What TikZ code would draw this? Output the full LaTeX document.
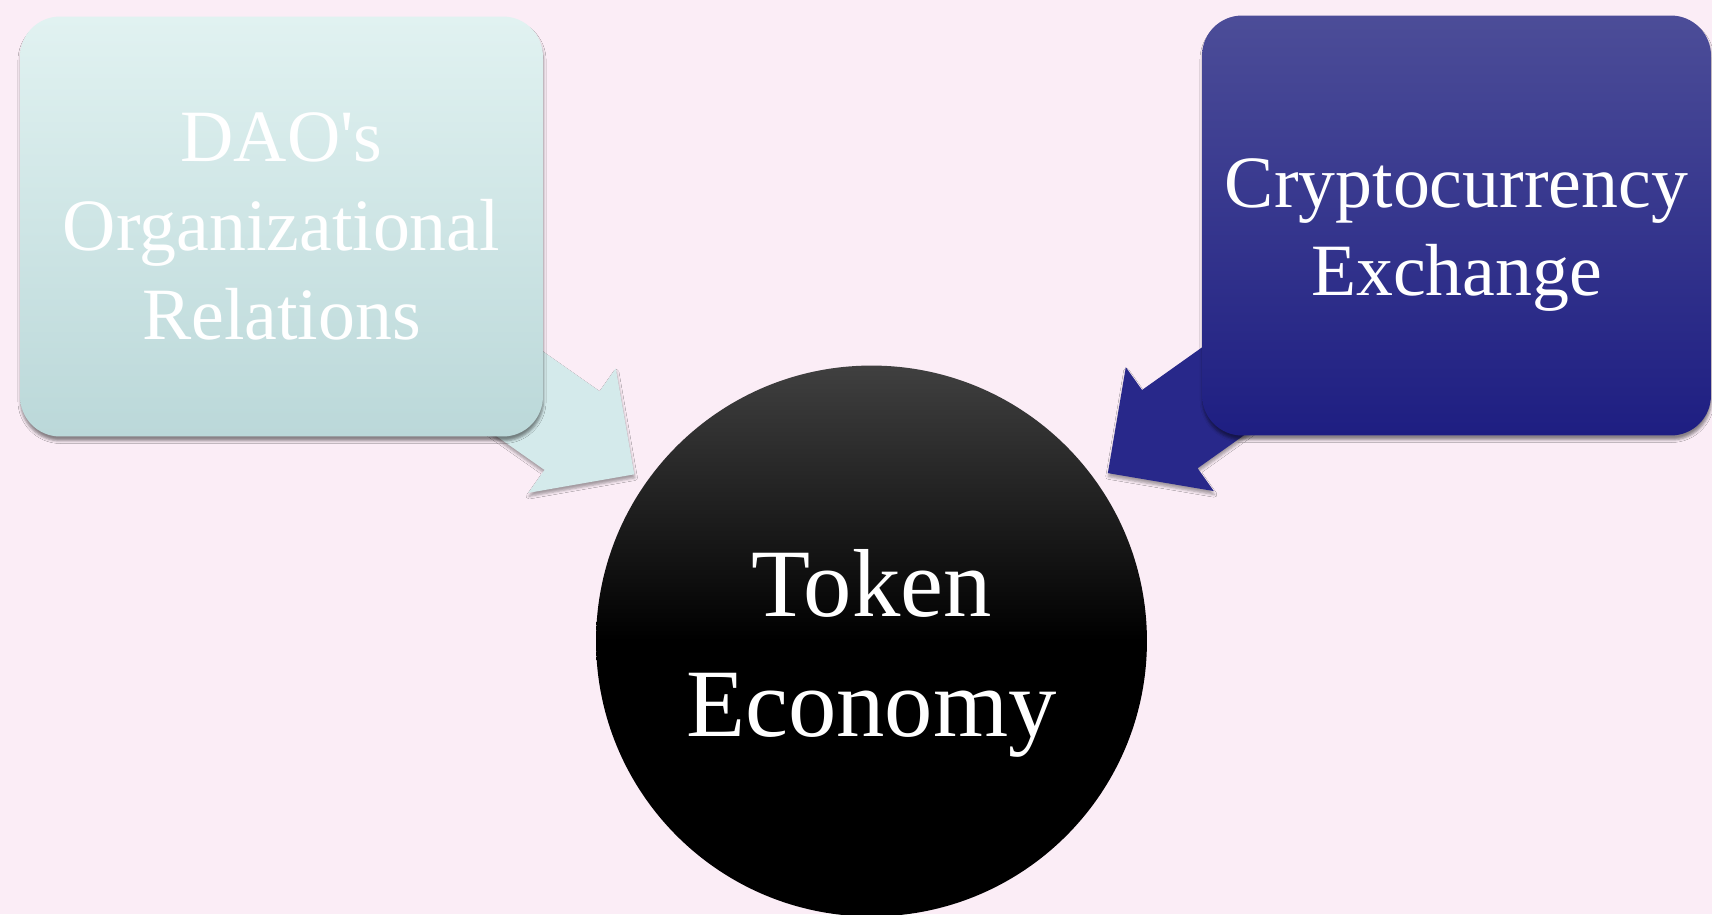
\documentclass[tikz,border=0pt]{standalone}
\usepackage{fontspec}
\setmainfont{Liberation Serif}
\usetikzlibrary{calc,shapes,positioning,shadows.blur}
\definecolor{bgpink}{RGB}{251,237,246}
\definecolor{daoTop}{RGB}{225,242,241}
\definecolor{daoBottom}{RGB}{187,216,217}
\definecolor{daoArrow}{RGB}{212,234,235}
\definecolor{exTop}{RGB}{76,77,152}
\definecolor{exBottom}{RGB}{30,30,130}
\definecolor{exArrow}{RGB}{40,40,138}
\pgfdeclarelayer{background}
\pgfsetlayers{background,main}
\tikzset{%
    topic/.style={%
        rectangle, rounded corners=0.8cm, align=center, text=white, inner sep=2pt,
        minimum height=8.4cm, font=\fontsize{42}{50.5}\selectfont,
        blur shadow={shadow xshift=0.3pt, shadow yshift=-2.5pt, shadow blur radius=1.5pt, shadow opacity=45}
    },
    dao_box/.style={%
        top color=daoTop, bottom color=daoBottom, minimum width=10.46cm
    },
    exchange_box/.style={%
        top color=exTop, bottom color=exBottom, minimum width=10.18cm, text height=89pt
    },
    hub/.style={%
        circle, minimum size=11.02cm, inner sep=0pt, align=center, text=white,
        top color=black!75, bottom color=black, middle color=black,
        font=\fontsize{55}{68}\selectfont, text height=120pt
    },
    flow/.style={%
        blur shadow={shadow xshift=0.3pt, shadow yshift=-2pt, shadow blur radius=1.5pt, shadow opacity=35}
    },
}

\begin{document}
\begin{tikzpicture}[x=0.02cm, y=-0.02cm]
  \useasboundingbox (0,0) rectangle (1712,914);

  \node[topic, dao_box] (dao) at (281.5,226.5) {DAO\textquotesingle s\\Organizational\\Relations};
  \node[topic, exchange_box] (exchange) at (1456.5,225.5) {Cryptocurrency\\Exchange};
  \node[hub] (token) at (871.5,641) {Token\\Economy};

  \begin{pgfonlayer}{background}
    \fill[bgpink] (0,0) rectangle (1712,914);

    % arrow from the DAO box
    \coordinate (daoTip) at ($(token.center)!5.8cm!(dao.center)$);
    \coordinate (daoBase) at ($(daoTip)!1.52cm!(dao.center)$);
    \fill[flow, fill=daoArrow] ($(dao.center)!0.96cm!90:(daoTip)$)
      -- ($(daoBase)!0.96cm!90:(daoTip)$) -- ($(daoBase)!1.52cm!90:(daoTip)$)
      -- (daoTip)
      -- ($(daoBase)!1.52cm!-90:(daoTip)$) -- ($(daoBase)!0.96cm!-90:(daoTip)$)
      -- ($(dao.center)!0.96cm!-90:(daoTip)$) -- cycle;

    % arrow from the exchange box
    \coordinate (exTip) at ($(token.center)!5.8cm!(exchange.center)$);
    \coordinate (exBase) at ($(exTip)!1.52cm!(exchange.center)$);
    \fill[flow, fill=exArrow] ($(exchange.center)!0.96cm!90:(exTip)$)
      -- ($(exBase)!0.96cm!90:(exTip)$) -- ($(exBase)!1.52cm!90:(exTip)$)
      -- (exTip)
      -- ($(exBase)!1.52cm!-90:(exTip)$) -- ($(exBase)!0.96cm!-90:(exTip)$)
      -- ($(exchange.center)!0.96cm!-90:(exTip)$) -- cycle;
  \end{pgfonlayer}
\end{tikzpicture}
\end{document}
